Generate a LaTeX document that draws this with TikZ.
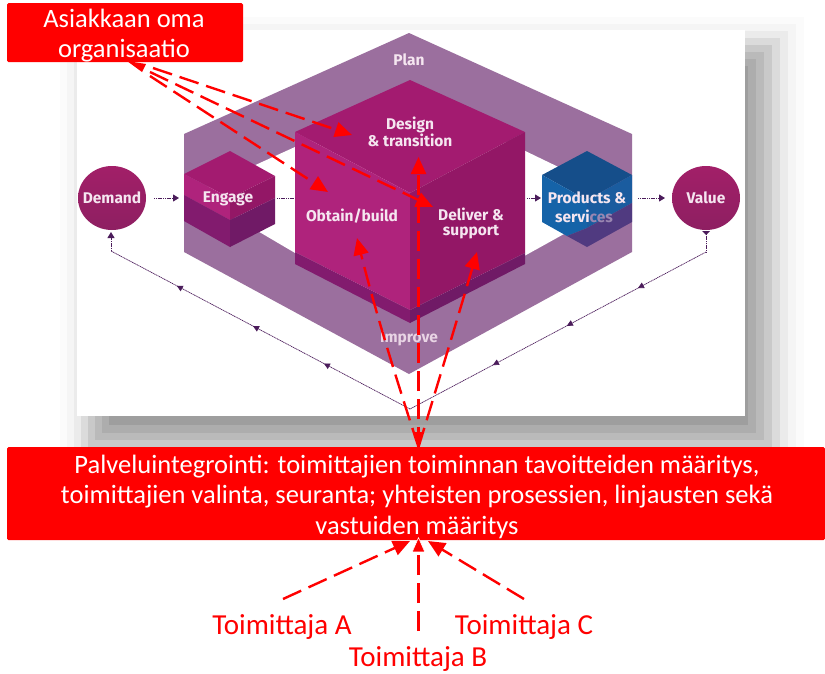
\documentclass[tikz,border=0pt]{standalone}
\usepackage{fontspec}
\setmainfont{Carlito}
\newfontfamily\labfont{Fira Sans}
\usetikzlibrary{arrows.meta,decorations.markings,shapes.geometric}
\definecolor{band}{HTML}{9B6F9E}
\definecolor{ctop}{HTML}{A31B70}
\definecolor{cleft}{HTML}{AF237C}
\definecolor{cright}{HTML}{931766}
\definecolor{cdl}{HTML}{821B6E}
\definecolor{cdr}{HTML}{701A66}
\definecolor{flow}{HTML}{4B1C5B}
\definecolor{lab}{HTML}{F5E6F0}
\definecolor{ptop}{HTML}{154E8A}
\definecolor{pleft}{HTML}{1563A8}
\definecolor{pright}{HTML}{1A5C9F}
\definecolor{plr}{HTML}{503A80}
\definecolor{ctopc}{HTML}{A21F68}
\definecolor{cbotc}{HTML}{8E1F62}
\tikzset{
  redbox/.style={text=white,align=center,font=\fontsize{26.5}{30.5}\selectfont,inner sep=0pt},
  suplabel/.style={text=red,font=\fontsize{29}{32}\selectfont,inner sep=0pt},
  dlabel/.style={text=lab,font=\labfont\bfseries\fontsize{15.5}{15}\selectfont,align=center,inner sep=0pt},
  reddash/.style={draw=red,line width=2.4pt,dash pattern=on 20pt off 8pt,-{Triangle[length=17pt,width=15pt,fill=red]}},
  flowline/.style={draw=flow,line width=.9pt,dash pattern=on 1.2pt off .6pt},
  flowhead/.style={-{Triangle[length=6pt,width=7pt,fill=flow]}},
  circlebox/.style={ellipse,minimum width=68pt,minimum height=64pt,top color=ctopc,bottom color=cbotc,draw=none,text=lab,font=\labfont\bfseries\fontsize{15.5}{15}\selectfont,inner sep=-9pt},
  minihead/.style={postaction={decorate}},
}
\begin{document}
\begin{tikzpicture}[x=1pt,y=-1pt]
\useasboundingbox (0,0) rectangle (825,673);
\fill[white] (0,0) rectangle (825,673);
% photo shadow
\foreach \j/\p in {0/1.5,1/4,2/8,3/14,4/21,5/27,6/32,7/38}{
  \fill[black!\p] ({60+7*\j},{17+7*\j}) rectangle ({804-8*\j},{477-7.4*\j});
}
\fill[white] (77,30) rectangle (745,416);
% plan / improve band
\fill[band] (409,33) -- (632,134) -- (632,252) -- (409,374) -- (184,252) -- (184,134) -- cycle;
\fill[white] (205,188) -- (409,95) -- (600,187) -- (600,214) -- (409,320) -- (205,200) -- cycle;
% big cube
\fill[ctop] (410,80) -- (525,132) -- (410,193) -- (295,132) -- cycle;
\fill[cleft] (295,132) -- (410,193) -- (410,310) -- (295,252) -- cycle;
\fill[cright] (525,132) -- (410,193) -- (410,310) -- (525,253) -- cycle;
\fill[cdl] (295,252) -- (410,310) -- (410,323) -- (295,264) -- cycle;
\fill[cdr] (525,253) -- (410,310) -- (410,323) -- (525,264) -- cycle;
% engage
\fill[ctop] (230,151) -- (275,176) -- (230,198) -- (184,174) -- cycle;
\fill[cleft] (184,174) -- (230,198) -- (230,220) -- (184,195) -- cycle;
\fill[cright] (275,176) -- (230,198) -- (230,220) -- (275,198) -- cycle;
\fill[cdl] (184,195) -- (230,220) -- (230,247) -- (184,221) -- cycle;
\fill[cdr] (275,198) -- (230,220) -- (230,247) -- (275,224) -- cycle;
% products
\fill[ptop] (587,151) -- (632,175) -- (587,200) -- (542,175) -- cycle;
\fill[pleft] (542,175) -- (587,200) -- (587,228) -- (567,236) -- (542,222) -- cycle;
\fill[pright] (632,175) -- (587,200) -- (587,228) -- (632,203) -- cycle;
\fill[plr] (632,203) -- (587,228) -- (567,236) -- (587,247) -- (632,222) -- cycle;
% circles and labels
\node[circlebox] (demand) at (112,198) {Demand};
\node[circlebox] (value) at (706,198) {Value};
\node[dlabel] (plan) at (409,60) {Plan};
\node[dlabel] (design) at (410,131.5) {Design\\\& transition};
\node[dlabel] (engage) at (228,198.5) {Engage};
\node[dlabel] (obtain) at (352,216) {Obtain/build};
\node[dlabel] (deliver) at (471,223.5) {Deliver \&\\support};
\node[dlabel] (products) at (587,198) {Products \&};
\node[dlabel] (services) at (584,216.5) {servi\textcolor{lab!45!plr}{ces}};
\node[dlabel,text=lab!85!band] (improve) at (409,339) {Improve};
% flow arrows
\coordinate (d1) at (154,198); \coordinate (d2) at (179,198);
\coordinate (e1) at (277,198); \coordinate (e2) at (295,198);
\coordinate (c1) at (527,198); \coordinate (c2) at (541,198);
\coordinate (p1) at (638,198); \coordinate (p2) at (665,198);
\draw[flowline,flowhead] (d1) -- (d2);
\draw[flowline] (e1) -- (e2);
\draw[flowline,flowhead] (c1) -- (c2);
\draw[flowline,flowhead] (p1) -- (p2);
% feedback
\coordinate (vb) at (706,232); \coordinate (vc) at (706,252);
\coordinate (mid) at (410,409);
\coordinate (dc) at (111,251); \coordinate (db) at (111,232);
\fill[flow] (702,231) -- (710,231) -- (706,235) -- cycle;
\draw[flowline] (vb) -- (vc);
\draw[flowline,line width=.7pt,minihead,decoration={markings,
  mark=at position .23 with {\arrow{Triangle[length=6pt,width=6pt,fill=flow]}},
  mark=at position .47 with {\arrow{Triangle[length=6pt,width=6pt,fill=flow]}},
  mark=at position .72 with {\arrow{Triangle[length=6pt,width=6pt,fill=flow]}}}] (vc) -- (mid);
\draw[flowline,line width=.7pt,minihead,decoration={markings,
  mark=at position .288 with {\arrow{Triangle[length=6pt,width=6pt,fill=flow]}},
  mark=at position .525 with {\arrow{Triangle[length=6pt,width=6pt,fill=flow]}},
  mark=at position .78 with {\arrow{Triangle[length=6pt,width=6pt,fill=flow]}}}] (mid) -- (dc);
\draw[flowline,flowhead] (dc) -- (db);
% red boxes
\fill[red,rounded corners=1.5pt] (7,447) rectangle (825,540);
\node[redbox] (integ) at (417,496.5) {Palveluintegrointi: toimittajien toiminnan tavoitteiden määritys,\\toimittajien valinta, seuranta; yhteisten prosessien, linjausten sekä\\vastuiden määritys};
\fill[red,rounded corners=1.5pt] (7,3) rectangle (243,62);
\node[redbox] (asiakas) at (124,35.5) {Asiakkaan oma\\organisaatio};
\fill[red] (127,61) -- (146,64) -- (142,72) -- cycle;
% customer arrows
\coordinate (a1) at (153,68); \coordinate (a2) at (150,72); \coordinate (a3) at (150,76);
\coordinate (tdesign) at (352,135); \coordinate (tdeliver) at (433,207); \coordinate (tobtain) at (328,192);
\draw[reddash] (a1) -- (tdesign);
\draw[reddash] (a2) -- (tdeliver);
\draw[reddash] (a3) -- (tobtain);
% integration arrows
\coordinate (i0) at (418.5,447);
\coordinate (tup) at (418.5,157); \coordinate (tob) at (357,238); \coordinate (tde) at (477,252);
\draw[reddash] (i0) -- (tup);
\draw[reddash] (i0) .. controls (395,375) and (375,310) .. (tob);
\draw[reddash] (i0) .. controls (445,360) and (460,310) .. (tde);
\fill[red] (418.5,448) -- (414,432) -- (423,432) -- cycle;
% suppliers
\node[suplabel] (ta) at (282,627) {Toimittaja A};
\node[suplabel] (tc) at (524,627) {Toimittaja C};
\node[suplabel] (tb) at (418,659) {Toimittaja B};
\coordinate (sa) at (283,599); \coordinate (sc) at (524,599); \coordinate (sb) at (418.5,631);
\coordinate (ea) at (410,541); \coordinate (ec) at (428,541); \coordinate (eb) at (418.5,537);
\draw[reddash] (sa) -- (ea);
\draw[reddash] (sc) -- (ec);
\draw[reddash,-{Triangle[length=15pt,width=13pt,fill=red,color=white,line width=.5pt]}] (sb) -- (eb);
\end{tikzpicture}
\end{document}
